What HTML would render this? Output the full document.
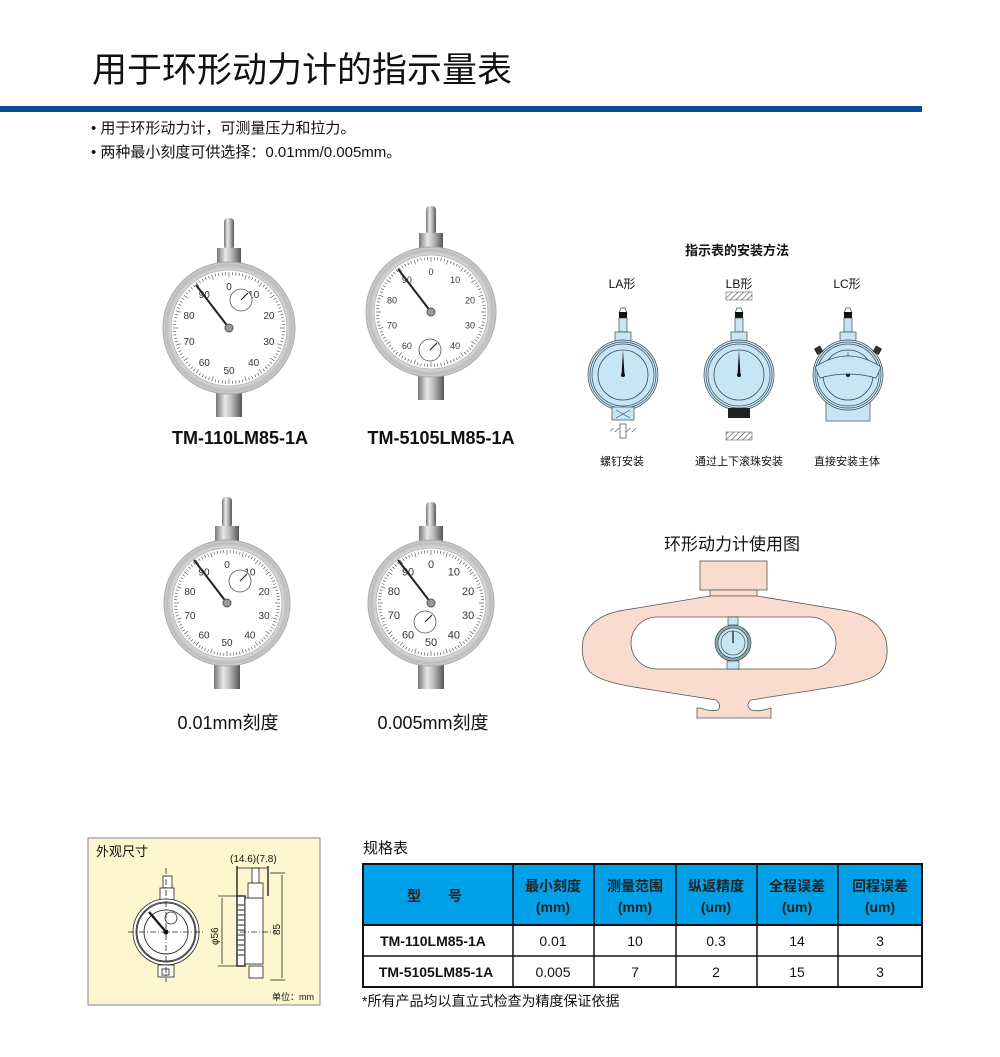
<!DOCTYPE html>
<html><head><meta charset="utf-8"><style>
html,body{margin:0;padding:0;background:#fff;}
body{width:1000px;height:1057px;overflow:hidden;position:relative;font-family:"Liberation Sans","Noto Sans CJK SC",sans-serif;}
svg{position:absolute;left:0;top:0;}
</style></head><body>
<svg id="s" width="1000" height="1057" viewBox="0 0 1000 1057" xmlns="http://www.w3.org/2000/svg" font-family="Liberation Sans, Noto Sans CJK SC, sans-serif">
<defs>
<linearGradient id="metal" x1="0" x2="1" y1="0" y2="0">
<stop offset="0" stop-color="#777"/><stop offset="0.35" stop-color="#e8e8e8"/><stop offset="0.6" stop-color="#bbb"/><stop offset="1" stop-color="#555"/></linearGradient>
<radialGradient id="rim" cx="0.5" cy="0.5" r="0.5"><stop offset="0.85" stop-color="#e6e6e6"/><stop offset="0.95" stop-color="#bdbdbd"/><stop offset="1" stop-color="#cfcfcf"/></radialGradient>
<pattern id="hatch" width="4" height="4" patternUnits="userSpaceOnUse" patternTransform="rotate(45)"><rect width="4" height="4" fill="#fff"/><line x1="0" y1="0" x2="0" y2="4" stroke="#444" stroke-width="1.2"/></pattern>
</defs>
<text x="92" y="82" font-size="35" fill="#111">用于环形动力计的指示量表</text>
<rect x="0" y="106" width="922" height="6" fill="#004d94"/>
<text x="91" y="133" font-size="15" fill="#111">• 用于环形动力计，可测量压力和拉力。</text>
<text x="91" y="157" font-size="15" fill="#111">• 两种最小刻度可供选择：0.01mm/0.005mm。</text>
<g id="gauges"></g>
<text x="240" y="444" font-size="18" font-weight="bold" text-anchor="middle" fill="#111">TM-110LM85-1A</text>
<text x="441" y="444" font-size="18" font-weight="bold" text-anchor="middle" fill="#111">TM-5105LM85-1A</text>
<text x="228" y="729" font-size="18" text-anchor="middle" fill="#111">0.01mm刻度</text>
<text x="433" y="729" font-size="18" text-anchor="middle" fill="#111">0.005mm刻度</text>

<text x="737" y="255" font-size="13" font-weight="bold" text-anchor="middle" fill="#111">指示表的安装方法</text>
<text x="622" y="288" font-size="12" text-anchor="middle" fill="#111">LA形</text>
<text x="739" y="288" font-size="12" text-anchor="middle" fill="#111">LB形</text>
<text x="847" y="288" font-size="12" text-anchor="middle" fill="#111">LC形</text>
<g id="inst"></g>
<text x="622" y="465" font-size="11" text-anchor="middle" fill="#111">螺钉安装</text>
<text x="739" y="465" font-size="11" text-anchor="middle" fill="#111">通过上下滚珠安装</text>
<text x="847" y="465" font-size="11" text-anchor="middle" fill="#111">直接安装主体</text>

<text x="732" y="550" font-size="17" text-anchor="middle" fill="#111">环形动力计使用图</text>
<rect x="700" y="561" width="67" height="29" fill="#fadbcf" stroke="#555" stroke-width="0.8"/>
<rect x="710" y="590" width="47" height="6" fill="#fadbcf" stroke="#555" stroke-width="0.8"/>
<path d="M710,596 L625,610 Q590,615 583,640 Q580,660 590,672 Q600,682 640,688 L716,700 Q722,705 718,710 Q712,712 700,708 L697,708 L697,718 L771,718 L771,708 Q760,712 751,710 Q745,705 751,700 L827,688 Q870,682 880,672 Q890,660 886,640 Q878,615 842,610 L757,596 Z" fill="#fadbcf" stroke="#555" stroke-width="0.8"/>
<rect x="631" y="617" width="205" height="52" rx="26" fill="#fff" stroke="#555" stroke-width="0.8"/>
<g id="ringg"></g>

<rect x="88" y="838" width="232" height="167" fill="#fdf6cf" stroke="#999" stroke-width="1.2"/>
<text x="96" y="856" font-size="13" fill="#111">外观尺寸</text>
<g stroke="#222" fill="none" stroke-width="0.8">
<rect x="163" y="876" width="9" height="12" fill="#fff"/>
<rect x="160" y="888" width="14" height="12" fill="#fff"/>
<circle cx="166" cy="932" r="33" fill="#fff"/>
<circle cx="166" cy="932" r="30"/>
<circle cx="166" cy="932" r="29"/>
<circle cx="166" cy="932" r="22"/>
<circle cx="171" cy="918" r="6"/>
<rect x="158" y="965" width="16" height="12" fill="#fff"/>
<rect x="162" y="969" width="7" height="6"/>
<line x1="128" y1="932" x2="205" y2="932" stroke-dasharray="6,2,1,2"/>
<line x1="166" y1="868" x2="166" y2="982" stroke-dasharray="6,2,1,2"/>
</g>
<line x1="166" y1="932" x2="149" y2="912" stroke="#111" stroke-width="2.2"/>
<circle cx="166" cy="932" r="2.5" fill="#111"/>
<g stroke="#222" fill="none" stroke-width="0.8">
<rect x="237" y="896" width="8" height="70" fill="#fff" stroke-width="1.4"/>
<rect x="245" y="898" width="18" height="66" fill="#fff"/>
<rect x="248" y="883" width="15" height="15" fill="#fff"/>
<rect x="252" y="868" width="7" height="15" fill="#fff"/>
<rect x="249" y="966" width="14" height="12" fill="#fff"/>
<line x1="237" y1="896" x2="218" y2="896"/><line x1="237" y1="966" x2="218" y2="966"/>
<line x1="222" y1="898" x2="222" y2="964"/>
<line x1="270" y1="873" x2="285" y2="873"/><line x1="270" y1="980" x2="285" y2="980"/>
<line x1="282" y1="875" x2="282" y2="978"/>
<line x1="237" y1="866" x2="237" y2="896" stroke-width="1.4"/>
<line x1="268" y1="866" x2="268" y2="896" stroke-width="1.4"/>
<line x1="237" y1="868" x2="268" y2="868"/>
<line x1="240" y1="932" x2="275" y2="932" stroke-dasharray="6,2,1,2"/>
</g>
<g stroke="#222" stroke-width="1">
<line x1="238" y1="905" x2="244" y2="905"/><line x1="238" y1="910" x2="244" y2="910"/><line x1="238" y1="915" x2="244" y2="915"/><line x1="238" y1="920" x2="244" y2="920"/><line x1="238" y1="925" x2="244" y2="925"/><line x1="238" y1="930" x2="244" y2="930"/><line x1="238" y1="935" x2="244" y2="935"/><line x1="238" y1="940" x2="244" y2="940"/><line x1="238" y1="945" x2="244" y2="945"/><line x1="238" y1="950" x2="244" y2="950"/><line x1="238" y1="955" x2="244" y2="955"/>
</g>
<text x="230" y="862" font-size="10" fill="#111">(14.6)(7.8)</text>
<text x="0" y="0" font-size="10" fill="#111" transform="translate(218,945) rotate(-90)">φ56</text>
<text x="0" y="0" font-size="10" fill="#111" transform="translate(280,935) rotate(-90)">85</text>
<text x="314" y="1000" font-size="9" text-anchor="end" fill="#111">单位：mm</text>

<text x="363" y="853" font-size="15" fill="#111">规格表</text>
<rect x="363" y="864" width="559" height="61" fill="#00a0e8"/>
<g stroke="#111" stroke-width="1.5" fill="none">
<rect x="363" y="864" width="559" height="123" stroke-width="2"/>
<line x1="363" y1="925" x2="922" y2="925" stroke-width="2"/>
<line x1="363" y1="956" x2="922" y2="956"/>
<line x1="513" y1="864" x2="513" y2="987"/>
<line x1="594" y1="864" x2="594" y2="987"/>
<line x1="676" y1="864" x2="676" y2="987"/>
<line x1="757" y1="864" x2="757" y2="987"/>
<line x1="838" y1="864" x2="838" y2="987"/>
</g>
<g font-size="14" font-weight="bold" fill="#222" text-anchor="middle">
<text x="414" y="901">型</text><text x="455" y="901">号</text>
<text x="553" y="891">最小刻度</text><text x="553" y="912">(mm)</text>
<text x="635" y="891">测量范围</text><text x="635" y="912">(mm)</text>
<text x="716" y="891">纵返精度</text><text x="716" y="912">(um)</text>
<text x="797" y="891">全程误差</text><text x="797" y="912">(um)</text>
<text x="880" y="891">回程误差</text><text x="880" y="912">(um)</text>
</g>
<g font-size="14" fill="#111" text-anchor="middle">
<text x="433" y="946" font-weight="bold">TM-110LM85-1A</text>
<text x="436" y="977" font-weight="bold">TM-5105LM85-1A</text>
<text x="553" y="946">0.01</text><text x="553" y="977">0.005</text>
<text x="635" y="946">10</text><text x="635" y="977">7</text>
<text x="716" y="946">0.3</text><text x="716" y="977">2</text>
<text x="797" y="946">14</text><text x="797" y="977">15</text>
<text x="880" y="946">3</text><text x="880" y="977">3</text>
</g>
<text x="362" y="1006" font-size="14" fill="#111">*所有产品均以直立式检查为精度保证依据</text>
</svg>
<script>
var NS="http://www.w3.org/2000/svg";
function el(p,t,a,txt){var e=document.createElementNS(NS,t);for(var k in a)e.setAttribute(k,a[k]);if(txt)e.textContent=txt;p.appendChild(e);return e;}
var G=document.getElementById('gauges');
function gauge(cx,cy,r,top,sub,fs){
  el(G,'rect',{x:cx-5,y:top,width:10,height:cy-r-top-12,rx:4,fill:'url(#metal)'});
  el(G,'rect',{x:cx-12,y:cy-r-14,width:24,height:16,fill:'url(#metal)'});
  el(G,'rect',{x:cx-13,y:cy+r-3,width:26,height:26,fill:'url(#metal)'});
  el(G,'circle',{cx:cx,cy:cy,r:r,fill:'url(#rim)',stroke:'#aaa','stroke-width':1});
  el(G,'circle',{cx:cx,cy:cy,r:r-8,fill:'#fff',stroke:'#bbb','stroke-width':1});
  for(var i=0;i<100;i++){var a=i/100*2*Math.PI,l=(i%5==0)?5:3;
    el(G,'line',{x1:cx+Math.sin(a)*(r-10),y1:cy-Math.cos(a)*(r-10),x2:cx+Math.sin(a)*(r-10-l),y2:cy-Math.cos(a)*(r-10-l),stroke:'#444','stroke-width':0.6});}
  for(var j=0;j<10;j++){var a=j/10*2*Math.PI;
    el(G,'text',{x:cx+Math.sin(a)*(r-24),y:cy-Math.cos(a)*(r-24)+4,'font-size':fs,'text-anchor':'middle',fill:'#333'},String(j*10));}
  el(G,'circle',{cx:sub[0],cy:sub[1],r:11,fill:'#fff',stroke:'#555','stroke-width':0.8});
  el(G,'line',{x1:sub[0],y1:sub[1],x2:sub[0]+7,y2:sub[1]-7,stroke:'#111','stroke-width':1});
  el(G,'line',{x1:cx,y1:cy,x2:cx-33,y2:cy-43,stroke:'#222','stroke-width':2});
  el(G,'circle',{cx:cx,cy:cy,r:4,fill:'#999',stroke:'#555'});
}
gauge(229,328,66,218,[241,300],10);
gauge(431,312,65,206,[430,350],9);
gauge(227,603,63,497,[240,581],10);
gauge(431,603,63,502,[425,622],11);
var I=document.getElementById('inst');
function ig(cx,cy,type){
  var c='#c7e6f5',s='#3a4a55';
  el(I,'path',{d:'M'+(cx-4)+','+(cy-62)+' l2,-5 h4 l2,5 z',fill:'#fff',stroke:s,'stroke-width':0.7});
  el(I,'rect',{x:cx-4,y:cy-63,width:8,height:6,fill:'#111'});
  el(I,'rect',{x:cx-4,y:cy-57,width:8,height:14,fill:c,stroke:s,'stroke-width':0.7});
  el(I,'rect',{x:cx-8,y:cy-43,width:16,height:16,fill:c,stroke:s,'stroke-width':0.7});
  if(type=='LC'){el(I,'rect',{x:cx-22,y:cy+20,width:44,height:26,fill:c,stroke:s,'stroke-width':0.7});}
  [35,33,31].forEach(function(r){el(I,'circle',{cx:cx,cy:cy,r:r,fill:c,stroke:s,'stroke-width':0.7});});
  el(I,'circle',{cx:cx,cy:cy,r:25,fill:c,stroke:s,'stroke-width':0.8});
  el(I,'path',{d:'M'+(cx-1.5)+','+cy+' L'+cx+','+(cy-25)+' L'+(cx+1.5)+','+cy+' z',fill:'#111'});
  el(I,'circle',{cx:cx,cy:cy,r:2,fill:'#111'});
  if(type=='LA'){
    el(I,'rect',{x:cx-11,y:cy+32,width:22,height:13,fill:c,stroke:s,'stroke-width':0.7});
    el(I,'path',{d:'M'+(cx-7)+','+(cy+35)+' l14,8 m0,-8 l-14,8',stroke:s,'stroke-width':0.7,fill:'none'});
    el(I,'rect',{x:cx-13,y:cy+53,width:26,height:4,fill:'url(#hatch)'});
    el(I,'rect',{x:cx-3,y:cy+49,width:6,height:14,fill:'#fff',stroke:s,'stroke-width':0.7});
  }
  if(type=='LB'){
    el(I,'rect',{x:cx-13,y:cy-83,width:26,height:8,fill:'url(#hatch)',stroke:s,'stroke-width':0.5});
    el(I,'rect',{x:cx-11,y:cy+33,width:22,height:10,fill:'#222'});
    el(I,'rect',{x:cx-13,y:cy+57,width:26,height:8,fill:'url(#hatch)',stroke:s,'stroke-width':0.5});
  }
  if(type=='LC'){
    el(I,'path',{d:'M'+(cx-33)+','+(cy-8)+' Q'+cx+','+(cy-30)+' '+(cx+33)+','+(cy-8)+' L'+(cx+28)+','+(cy+3)+' Q'+cx+','+(cy-5)+' '+(cx-28)+','+(cy+3)+' z',fill:c,stroke:s,'stroke-width':0.7});
    el(I,'rect',{x:cx-33,y:cy-28,width:7,height:7,fill:'#333',transform:'rotate(-30 '+(cx-30)+' '+(cy-25)+')'});
    el(I,'rect',{x:cx+26,y:cy-28,width:7,height:7,fill:'#333',transform:'rotate(30 '+(cx+30)+' '+(cy-25)+')'});
  }
}
ig(623,375,'LA');ig(739,375,'LB');ig(848,375,'LC');
var R=document.getElementById('ringg');
el(R,'rect',{x:728,y:617,width:10,height:8,fill:'#c7e6f5',stroke:'#333','stroke-width':0.6});
el(R,'circle',{cx:733,cy:643,r:18,fill:'#8aa',stroke:'#333','stroke-width':0.6});
el(R,'circle',{cx:733,cy:643,r:15,fill:'#c7e6f5',stroke:'#333','stroke-width':0.6});
el(R,'circle',{cx:733,cy:643,r:12,fill:'#c7e6f5',stroke:'#333','stroke-width':0.6});
el(R,'line',{x1:733,y1:643,x2:733,y2:631,stroke:'#111','stroke-width':1.2});
el(R,'rect',{x:727,y:661,width:12,height:8,fill:'#c7e6f5',stroke:'#333','stroke-width':0.6});
</script>
</body></html>
